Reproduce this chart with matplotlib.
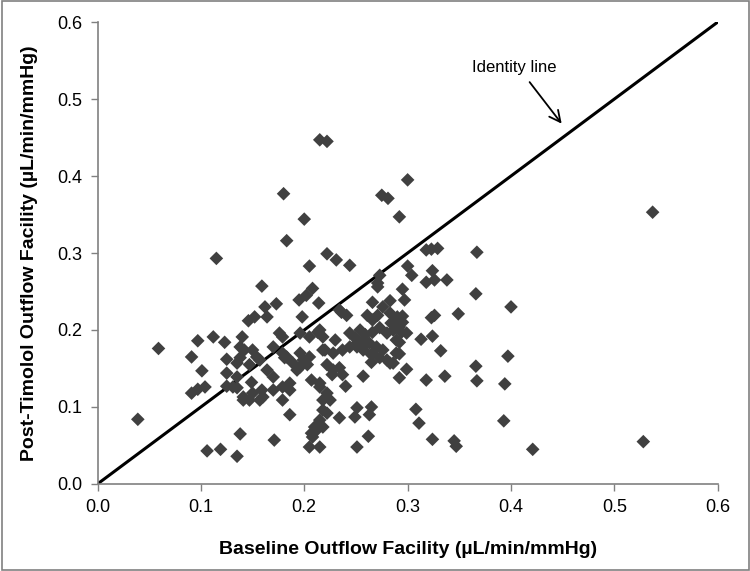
import matplotlib
matplotlib.use('Agg')
import matplotlib.pyplot as plt
from matplotlib.patches import Rectangle

plt.rcParams['font.family'] = ['Liberation Sans', 'DejaVu Sans']

# baseline outflow facility (x) and post-timolol outflow facility (y)
baseline = [0.039, 0.059, 0.091, 0.097, 0.101, 0.091, 0.097, 0.104, 0.112, 0.115,
            0.123, 0.125, 0.125, 0.135, 0.125, 0.135, 0.141, 0.140, 0.138, 0.142,
            0.146, 0.106, 0.119, 0.135, 0.138, 0.135, 0.150, 0.160, 0.170, 0.179,
            0.186, 0.149, 0.164, 0.170, 0.183, 0.189, 0.138, 0.147, 0.157, 0.150,
            0.154, 0.170, 0.179, 0.159, 0.152, 0.164, 0.162, 0.173, 0.176, 0.179,
            0.196, 0.205, 0.213, 0.198, 0.214, 0.195, 0.202, 0.208, 0.180, 0.200,
            0.183, 0.205, 0.215, 0.222, 0.222, 0.231, 0.244, 0.275, 0.281, 0.300,
            0.292, 0.318, 0.323, 0.329, 0.367, 0.300, 0.304, 0.273, 0.271, 0.324,
            0.318, 0.326, 0.338, 0.366, 0.295, 0.297, 0.271, 0.266, 0.276, 0.234,
            0.241, 0.236, 0.283, 0.400, 0.283, 0.295, 0.326, 0.323, 0.349, 0.261,
            0.266, 0.271, 0.290, 0.295, 0.284, 0.292, 0.294, 0.299, 0.313, 0.324,
            0.332, 0.292, 0.292, 0.289, 0.289, 0.283, 0.299, 0.292, 0.318, 0.336,
            0.366, 0.367, 0.397, 0.394, 0.308, 0.311, 0.393, 0.324, 0.345, 0.347,
            0.421, 0.537, 0.528, 0.244, 0.249, 0.259, 0.266, 0.273, 0.280, 0.286,
            0.230, 0.218, 0.228, 0.237, 0.251, 0.260, 0.270, 0.276, 0.254, 0.257,
            0.251, 0.263, 0.244, 0.257, 0.265, 0.215, 0.218, 0.220, 0.181, 0.199,
            0.203, 0.193, 0.196, 0.205, 0.222, 0.228, 0.234, 0.237, 0.227, 0.266,
            0.273, 0.280, 0.286, 0.265, 0.257, 0.159, 0.186, 0.157, 0.147, 0.141,
            0.179, 0.207, 0.215, 0.222, 0.225, 0.218, 0.215, 0.210, 0.207, 0.212,
            0.208, 0.205, 0.215, 0.240, 0.186, 0.234, 0.251, 0.249, 0.265, 0.263,
            0.262, 0.171, 0.251, 0.218, 0.222, 0.218, 0.196, 0.215, 0.131]
post_timolol = [0.084, 0.176, 0.165, 0.186, 0.147, 0.118, 0.123, 0.126, 0.191, 0.293,
                0.184, 0.162, 0.144, 0.139, 0.127, 0.125, 0.113, 0.191, 0.178, 0.174,
                0.212, 0.043, 0.045, 0.036, 0.065, 0.157, 0.118, 0.113, 0.122, 0.126,
                0.131, 0.132, 0.148, 0.139, 0.165, 0.157, 0.164, 0.155, 0.161, 0.174,
                0.165, 0.178, 0.170, 0.257, 0.217, 0.217, 0.230, 0.234, 0.196, 0.191,
                0.196, 0.191, 0.197, 0.217, 0.235, 0.239, 0.245, 0.254, 0.377, 0.344,
                0.316, 0.283, 0.447, 0.445, 0.299, 0.291, 0.284, 0.375, 0.371, 0.395,
                0.347, 0.304, 0.305, 0.306, 0.301, 0.283, 0.271, 0.271, 0.261, 0.277,
                0.262, 0.265, 0.265, 0.247, 0.253, 0.239, 0.256, 0.236, 0.230, 0.226,
                0.219, 0.223, 0.222, 0.230, 0.238, 0.218, 0.219, 0.216, 0.221, 0.219,
                0.213, 0.219, 0.217, 0.210, 0.209, 0.204, 0.197, 0.196, 0.188, 0.192,
                0.173, 0.184, 0.169, 0.187, 0.170, 0.157, 0.149, 0.138, 0.135, 0.140,
                0.153, 0.134, 0.166, 0.130, 0.097, 0.079, 0.082, 0.058, 0.056, 0.049,
                0.045, 0.353, 0.055, 0.196, 0.190, 0.194, 0.197, 0.203, 0.196, 0.200,
                0.187, 0.174, 0.170, 0.174, 0.178, 0.183, 0.178, 0.174, 0.200, 0.187,
                0.183, 0.183, 0.178, 0.174, 0.168, 0.200, 0.191, 0.174, 0.164, 0.161,
                0.155, 0.148, 0.170, 0.165, 0.155, 0.148, 0.151, 0.142, 0.142, 0.170,
                0.164, 0.161, 0.157, 0.158, 0.140, 0.122, 0.122, 0.109, 0.109, 0.109,
                0.109, 0.135, 0.126, 0.118, 0.109, 0.096, 0.083, 0.074, 0.066, 0.070,
                0.061, 0.048, 0.048, 0.127, 0.090, 0.086, 0.099, 0.087, 0.100, 0.090,
                0.062, 0.057, 0.048, 0.109, 0.092, 0.074, 0.152, 0.131, 0.126]

ticks = [0.0, 0.1, 0.2, 0.3, 0.4, 0.5, 0.6]
tick_labels = ['0.0', '0.1', '0.2', '0.3', '0.4', '0.5', '0.6']

fig = plt.figure(figsize=(7.5, 5.71), dpi=100)
ax = fig.add_axes([0.13, 0.1524, 0.827, 0.809])

ax.plot([0, 0.6], [0, 0.6], color='black', lw=2.2, zorder=2)
ax.scatter(baseline, post_timolol, marker='D', s=48, color='#404040',
           edgecolors='none', zorder=3)

# label plus a diagonal arrow pointing at the identity line
ax.text(0.403, 0.541, 'Identity line', ha='center', va='center', fontsize=12)
ax.annotate('', xy=(0.449, 0.468), xytext=(0.418, 0.522),
            arrowprops=dict(arrowstyle='->', color='black', lw=1.3,
                            shrinkA=0, shrinkB=0, mutation_scale=20))

ax.set_xlim(0, 0.6)
ax.set_ylim(0, 0.6)
ax.set_xticks(ticks)
ax.set_xticklabels(tick_labels)
ax.set_yticks(ticks)
ax.set_yticklabels(tick_labels)
ax.tick_params(axis='both', labelsize=13, length=5, width=1, color='#808080',
               direction='out', pad=6)

for side in ['top', 'right']:
    ax.spines[side].set_visible(False)
for side in ['left', 'bottom']:
    ax.spines[side].set_color('#808080')
    ax.spines[side].set_linewidth(1.2)

ax.set_xlabel('Baseline Outflow Facility (µL/min/mmHg)', fontsize=14,
              fontweight='bold', labelpad=18)
ax.set_ylabel('Post-Timolol Outflow Facility (µL/min/mmHg)', fontsize=14,
              fontweight='bold', labelpad=14)

fig.patches.append(Rectangle((0.002, 0.002), 0.996, 0.996, transform=fig.transFigure,
                             fill=False, edgecolor='#808080', lw=1.2))

fig.savefig('out.png', dpi=100)
